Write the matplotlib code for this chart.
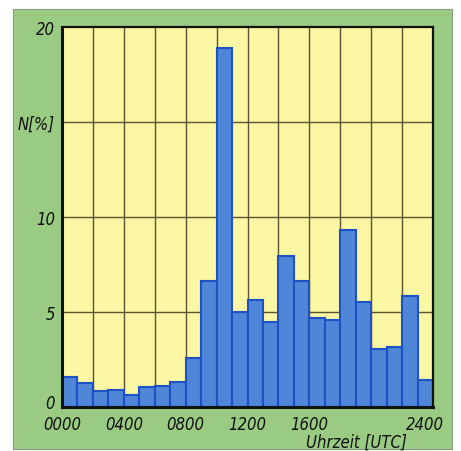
import matplotlib
matplotlib.use("Agg")
import matplotlib.pyplot as plt
from matplotlib.patches import Rectangle
from matplotlib.transforms import ScaledTranslation

# Hourly share of observations (percent), one bar per UTC hour
hours = list(range(24))
share = [1.56, 1.25, 0.86, 0.87, 0.63, 1.04, 1.09, 1.30,
         2.56, 6.65, 18.88, 4.98, 5.65, 4.46, 7.93, 6.61,
         4.67, 4.58, 9.32, 5.51, 3.05, 3.14, 5.86, 1.42]

x_ticks = [0, 4, 8, 12, 16, 24]
x_ticklabels = ["0000", "0400", "0800", "1200", "1600", "2400"]
y_ticks = [0, 5, 10, 15, 20]
y_ticklabels = ["0", "5", "10", "N[%]", "20"]

GREEN = "#9acb82"
YELLOW = "#fcf7a4"
BAR = "#4f86d8"
BAR_EDGE = "#1d52c6"
GRID = "#5c5330"

text_kw = dict(family="DejaVu Sans", fontstretch="condensed", style="oblique",
               fontsize=12, color="#111111")

fig = plt.figure(figsize=(4.61, 4.52), dpi=100)
fig.patch.set_facecolor("white")

# green panel behind the chart
panel = Rectangle((13 / 461, 2 / 452), 439 / 461, 440 / 452,
                  transform=fig.transFigure, facecolor=GREEN,
                  edgecolor="#8a9a84", linewidth=0.8, zorder=-10)
fig.add_artist(panel)

ax = fig.add_axes([62 / 461, 1 - 408 / 452, 371 / 461, 380 / 452])
ax.set_zorder(5)
ax.set_facecolor(YELLOW)
ax.set_xlim(0, 24)
ax.set_ylim(0, 20)

# grid: every two hours, every 5 percent
for gx in range(2, 24, 2):
    ax.axvline(gx, color=GRID, linewidth=1.0, zorder=1)
for gy in (5, 10, 15):
    ax.axhline(gy, color=GRID, linewidth=1.0, zorder=1)

ax.bar(hours, share, width=1.0, align="edge", color=BAR,
       edgecolor=BAR_EDGE, linewidth=1.5, zorder=2)

for side in ("left", "bottom"):
    ax.spines[side].set_linewidth(2.2)
for side in ("top", "right"):
    ax.spines[side].set_linewidth(1.6)
for s in ax.spines.values():
    s.set_color("#111111")
    s.set_zorder(3)

ax.tick_params(axis="y", length=0, pad=5)
ax.tick_params(axis="x", length=0, pad=6)
ax.set_xticks(x_ticks)
ax.set_xticklabels(x_ticklabels, **text_kw)
ax.set_yticks(y_ticks)
ax.set_yticklabels(y_ticklabels, **text_kw)


def nudge(label, dx_px, dy_px):
    label.set_transform(label.get_transform() +
                        ScaledTranslation(dx_px / 100, dy_px / 100,
                                          fig.dpi_scale_trans))


# lift the zero label clear of the hour labels, pull 2400 inside the panel
nudge(ax.get_yticklabels()[0], 0, 6)
nudge(ax.get_xticklabels()[-1], -8, 0)

fig.text(407 / 461, 1 - 443 / 452, "Uhrzeit [UTC]", ha="right", va="center",
         zorder=6, **text_kw)

fig.savefig("out.png", dpi=100, facecolor="white")
